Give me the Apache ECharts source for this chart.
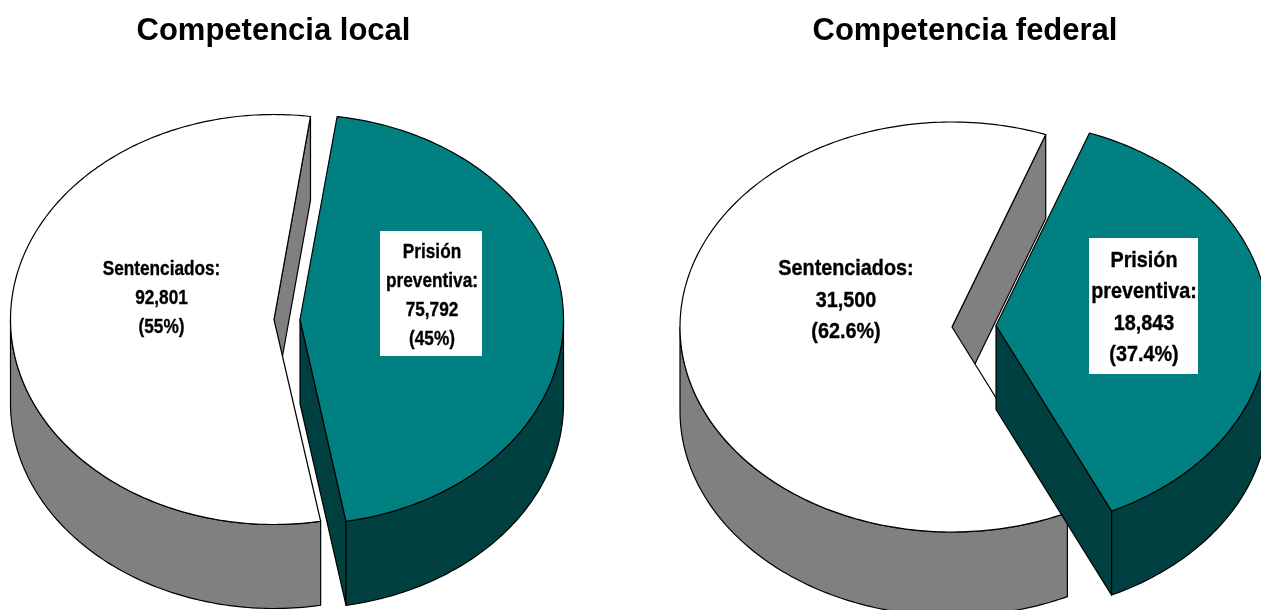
<!DOCTYPE html>
<html><head><meta charset="utf-8">
<style>html,body{margin:0;padding:0;background:#fff}#c{width:1261px;height:610px}</style>
<script src="https://cdn.jsdelivr.net/npm/echarts@6/dist/echarts.min.js"></script>
</head><body><div id="c"></div>
<script>
// ---- data ----
const chartTitles = ['Competencia local', 'Competencia federal'];
const categories = ['Sentenciados', 'Prisión preventiva'];
const localValues = [92801, 75792];
const federalValues = [31500, 18843];
const localLabels = ['Sentenciados:\n92,801\n(55%)', 'Prisión\npreventiva:\n75,792\n(45%)'];
const federalLabels = ['Sentenciados:\n31,500\n(62.6%)', 'Prisión\npreventiva:\n18,843\n(37.4%)'];
// ---- layout and style ----
const sliceColors = [{top:'#ffffff', side:'#808080'}, {top:'#008080', side:'#004040'}];
const localLayout = {
  rx:263.5, ry:205, depth:84, font:21, lineHeight:29, scaleX:0.82,
  start:[169.8, 8.1],
  apex:[[274,319.5],[300,319.5]],
  text:[[161.5,298],[432,296]],
  box:[null,[380,231,102,125]]
};
const federalLayout = {
  rx:272, ry:205, depth:84, font:22, lineHeight:31.5, scaleX:0.9,
  start:[154.9, 20.1],
  apex:[[952,327],[996,325.5]],
  text:[[846,300.5],[1144,308]],
  box:[null,[1089,238,109,136]]
};
const rad = d => d * Math.PI / 180;
function makePie(values, labels, L) {
  const total = values.reduce((a, b) => a + b, 0);
  return {
    type:'custom', coordinateSystem:'none', silent:true, animation:false,
    clip:false,
    data: values.map((v, i) => ({name:categories[i], value:[v]})),
    renderItem(params, api) {
      const i = params.dataIndex;
      const sweep = api.value(0) / total * 360;
      const a0 = L.start[i], a1 = a0 + sweep;
      const [cx, cy] = L.apex[i];
      const pt = (a, dy) => [cx + L.rx * Math.sin(rad(a)), cy - L.ry * Math.cos(rad(a)) + (dy || 0)];
      const arc = (from, to, dy) => {
        const out = [], n = Math.max(2, Math.ceil(Math.abs(to - from)));
        for (let k = 0; k <= n; k++) out.push(pt(from + (to - from) * k / n, dy));
        return out;
      };
      const stroke = {stroke:'#000', lineWidth:1.2, lineJoin:'round'};
      const c = sliceColors[i];
      const children = [];
      // cut face on the slice's closing edge
      const pe = pt(a1);
      children.push({type:'polygon', shape:{points:[[cx,cy],pe,[pe[0],pe[1]+L.depth],[cx,cy+L.depth]]},
        style:Object.assign({fill:c.side}, stroke)});
      // outer wall, the part of the rim on the near half
      const w0 = Math.max(a0, 90), w1 = Math.min(a1, 270);
      if (w1 > w0) {
        const pts = arc(w0, w1, 0).concat(arc(w1, w0, L.depth));
        children.push({type:'polygon', shape:{points:pts}, style:Object.assign({fill:c.side}, stroke)});
      }
      // top surface
      children.push({type:'polygon', shape:{points:[[cx,cy]].concat(arc(a0, a1, 0))},
        style:Object.assign({fill:c.top}, stroke)});
      const b = L.box[i];
      if (b) children.push({type:'rect', shape:{x:b[0],y:b[1],width:b[2],height:b[3]}, style:{fill:'#fff'}});
      children.push({type:'text', x:L.text[i][0], y:L.text[i][1], scaleX:L.scaleX,
        style:{text:labels[i], fill:'#000', stroke:'#000', lineWidth:0.35, align:'center', verticalAlign:'middle',
          font:'bold '+L.font+'px "Liberation Sans", Arial, sans-serif', lineHeight:L.lineHeight}});
      return {type:'group', children};
    }
  };
}
const chart = echarts.init(document.getElementById('c'), null, {renderer:'canvas'});
const titleStyle = {fontFamily:'"Liberation Sans", Arial, sans-serif', fontWeight:'bold', fontSize:31, color:'#000'};
chart.setOption({
  animation:false,
  backgroundColor:'#fff',
  title:[
    {text:chartTitles[0], left:268.5, top:11, textAlign:'center', textStyle:titleStyle},
    {text:chartTitles[1], left:960, top:11, textAlign:'center', textStyle:titleStyle}
  ],
  series:[makePie(localValues, localLabels, localLayout), makePie(federalValues, federalLabels, federalLayout)]
});
</script></body></html>
